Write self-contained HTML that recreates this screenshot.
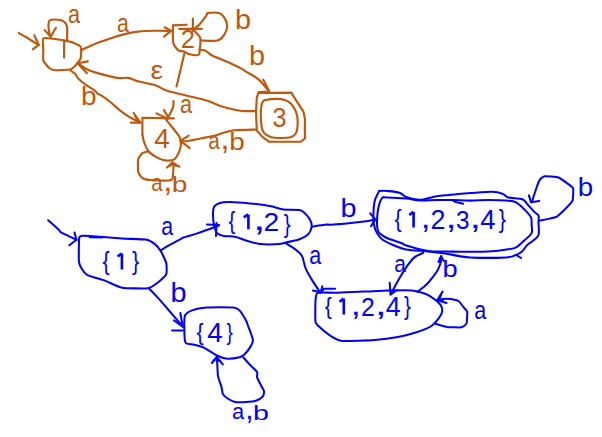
<!DOCTYPE html><html><head><meta charset="utf-8"><style>html,body{margin:0;padding:0;background:#fff;width:602px;height:437px;overflow:hidden}svg{display:block}</style></head><body>
<svg width="602" height="437" viewBox="0 0 602 437">
<rect width="602" height="437" fill="#fff"/>
<g fill="none" stroke="#C0580C" stroke-width="2.15" stroke-linecap="round" stroke-linejoin="round">
<path d="M18.7,33.0 C19.8,33.6 23.3,35.5 25.4,36.8 C27.5,38.0 29.2,39.1 31.4,40.5 C33.6,41.9 37.6,44.2 38.8,44.9"/>
<path d="M34.3,35.3 L38.8,44.9 L32.8,49.4"/>
<path d="M43.3,38.3 C44.1,37.6 53.7,38.9 55.1,39.0 C56.5,39.1 62.9,40.3 64.0,40.5 C65.1,40.7 70.4,41.6 71.5,42.0 C72.6,42.4 79.8,45.7 80.4,46.4 C81.0,47.1 81.2,52.3 81.2,53.1 C81.2,53.9 80.8,58.1 80.4,59.0 C80.0,59.9 75.2,65.8 74.5,66.5 C73.8,67.2 71.3,69.3 70.0,69.5 C68.7,69.7 56.5,70.3 55.1,70.2 C53.7,70.1 50.0,68.6 49.2,68.0 C48.4,67.4 43.7,61.8 43.3,60.6 C42.9,59.4 43.3,51.5 43.3,50.0 C43.3,48.5 42.5,39.0 43.3,38.3 Z"/>
<path d="M64.1,40.5 L64.1,57.6"/>
<path d="M67.0,40.5 C67.0,38.1 67.6,29.6 67.0,26.4 C66.4,23.2 64.8,22.3 63.3,21.2 C61.8,20.1 60.3,19.9 58.1,19.7 C55.9,19.5 51.6,19.2 50.0,20.1 C48.4,21.0 48.6,22.9 48.5,24.9 C48.4,26.9 48.8,30.3 49.2,32.3 C49.6,34.3 50.5,36.0 50.7,36.8"/>
<path d="M44.7,30.1 L50.7,36.8 L55.9,27.8"/>
<path d="M81.7,49.9 C84.2,48.8 91.3,45.3 96.6,43.2 C101.8,41.1 108.5,38.9 113.2,37.4 C117.9,35.9 120.8,35.1 124.9,34.1 C129.1,33.1 133.1,32.1 138.1,31.6 C143.1,31.1 149.3,30.9 154.8,30.8 C160.3,30.7 168.3,30.9 171.0,30.9"/>
<path d="M164.7,27.3 L171.0,30.9 L163.9,36.6"/>
<path d="M173.0,25.4 L186.7,24.7"/>
<path d="M173.0,25.4 C173.0,28.0 172.7,37.7 173.0,41.2 C173.3,44.7 174.1,45.0 175.1,46.6 C176.1,48.2 177.7,50.0 179.2,50.8 C180.7,51.6 182.3,50.8 184.0,51.4 C185.7,52.0 187.1,53.6 189.5,54.2 C191.9,54.8 196.7,55.8 198.4,54.9 C200.1,54.0 199.5,51.0 199.8,48.7 C200.2,46.4 200.5,43.2 200.5,41.2 C200.5,39.2 200.7,38.6 199.8,37.0 C198.9,35.4 196.3,33.0 195.0,31.6 C193.7,30.2 192.5,29.0 192.0,28.5"/>
<path d="M201.2,40.5 C203.9,40.5 213.7,41.5 217.6,40.5 C221.5,39.5 222.9,36.7 224.5,34.3 C226.1,31.9 227.2,28.9 227.2,26.1 C227.2,23.4 225.9,20.0 224.5,17.8 C223.1,15.6 221.8,13.8 219.0,13.0 C216.2,12.2 210.1,12.7 208.0,13.0 C205.9,13.3 208.0,13.3 206.6,15.1 C205.2,16.9 201.9,21.7 199.8,24.0 C197.8,26.3 195.2,28.0 194.3,28.8"/>
<path d="M192.9,18.5 L192.9,30.9"/>
<path d="M179.2,28.8 L201.8,28.8"/>
<path d="M199.5,49.7 C200.4,49.8 202.8,49.5 205.0,50.5 C207.2,51.5 209.9,54.3 212.4,55.7 C214.9,57.1 216.7,57.3 219.9,58.7 C223.2,60.1 228.2,62.2 231.9,63.9 C235.6,65.6 239.8,67.7 242.3,69.1 C244.8,70.5 244.6,70.7 246.8,72.1 C249.1,73.5 253.6,75.9 255.8,77.4 C258.1,78.9 258.1,78.7 260.3,81.1 C262.5,83.5 267.7,89.8 269.2,91.6"/>
<path d="M263.2,79.6 L269.2,91.6 L258.8,92.0"/>
<path d="M184.5,53.0 C183.8,55.8 181.8,64.4 180.5,70.0 C179.2,75.6 177.2,83.7 176.5,86.4"/>
<path d="M173.4,101.0 C173.4,101.8 173.8,104.2 173.4,106.0 C173.0,107.8 171.8,110.0 170.9,112.0 C170.0,114.0 168.4,116.9 167.9,117.9"/>
<path d="M156.4,113.4 L167.9,118.9"/>
<path d="M163.9,110.0 L167.9,116.9"/>
<path d="M256.0,111.1 C254.1,111.1 248.0,111.3 244.5,111.1 C241.0,110.9 238.8,110.5 234.9,109.7 C231.0,108.9 225.8,107.8 221.2,106.3 C216.6,104.8 212.0,102.3 207.4,100.8 C202.8,99.3 197.4,98.2 193.7,97.3 C190.0,96.4 189.6,96.3 185.0,95.2 C180.4,94.1 171.3,92.3 166.4,90.6 C161.5,88.9 160.0,86.7 155.4,85.2 C150.8,83.7 143.6,82.7 139.0,81.5 C134.4,80.3 131.7,78.5 128.0,77.9 C124.3,77.3 122.5,78.8 117.0,77.9 C111.5,77.0 100.3,73.9 95.1,72.4 C89.9,70.9 88.9,70.2 86.0,68.7 C83.1,67.2 79.1,64.1 77.7,63.2"/>
<path d="M87.8,61.4 L77.7,63.2 L86.9,73.3"/>
<path d="M258.4,93.0 L291.3,92.6 L295.3,99.2 L303.3,111.3 L304.9,118.5 L304.9,138.5 L300.9,141.7 L268.8,141.7 L262.4,136.9 L256.8,130.5 L256.0,112.0 L256.8,97.6 Z"/>
<path d="M265.6,100.0 C268.0,99.4 273.7,98.9 276.9,98.9 C280.1,98.9 282.5,99.2 284.9,100.0 C287.3,100.8 289.4,102.0 291.3,104.0 C293.2,106.0 295.0,109.0 296.1,112.0 C297.2,115.0 297.7,118.2 297.7,121.7 C297.7,125.2 297.2,130.4 296.1,132.9 C295.0,135.4 294.0,136.1 291.3,136.9 C288.6,137.8 283.6,138.0 280.1,138.0 C276.6,138.0 273.1,137.8 270.4,136.9 C267.7,136.1 265.5,134.6 264.0,132.9 C262.5,131.2 262.1,130.0 261.6,126.5 C261.1,123.0 260.7,116.0 260.8,112.0 C260.9,108.0 261.6,104.4 262.4,102.4 C263.2,100.4 263.2,100.6 265.6,100.0 Z"/>
<path d="M256.0,129.6 C252.5,129.7 240.0,129.9 234.9,130.3 C229.8,130.8 228.7,131.4 225.3,132.3 C221.9,133.2 218.4,134.8 214.3,135.8 C210.2,136.8 205.2,137.6 200.6,138.5 C196.0,139.4 190.3,140.8 186.9,141.2 C183.5,141.6 181.5,140.9 180.4,140.9"/>
<path d="M188.7,135.7 L180.4,140.9 L189.7,148.1"/>
<path d="M70.5,70.5 C71.3,71.1 74.2,72.8 75.3,73.9 C76.4,75.0 76.3,76.0 77.3,77.3 C78.3,78.6 79.9,80.1 81.5,81.5 C83.1,82.9 84.8,84.1 87.0,85.6 C89.2,87.1 92.7,89.0 94.5,90.4 C96.3,91.8 96.7,92.9 97.9,93.8 C99.2,94.7 99.9,94.5 102.0,95.9 C104.1,97.3 107.3,99.6 110.3,102.0 C113.3,104.4 116.7,107.8 119.9,110.3 C123.1,112.8 126.1,115.0 129.5,117.1 C132.9,119.1 138.6,121.7 140.4,122.6"/>
<path d="M133.6,113.0 L140.4,122.6 L130.8,122.6"/>
<path d="M135.0,116.0 L138.5,121.5"/>
<path d="M142.4,134.7 L142.4,117.8 L173.9,118.4"/>
<path d="M166.0,119.3 C166.8,120.4 171.6,126.5 173.2,128.5 C174.8,130.5 178.5,135.1 179.4,136.8 C180.3,138.5 181.0,141.3 181.0,143.0 C181.0,144.7 180.2,149.3 179.4,151.2 C178.6,153.1 176.0,158.3 174.3,159.4 C172.6,160.5 167.0,160.6 165.0,160.4 C163.0,160.2 158.7,158.5 156.8,157.4 C154.9,156.3 149.9,152.9 148.5,151.2 C147.1,149.5 145.1,144.9 144.4,143.0 C143.7,141.1 142.6,135.7 142.4,134.7"/>
<path d="M148.5,151.2 C147.9,151.4 143.4,152.4 142.4,153.2 C141.4,154.0 138.6,157.5 138.2,159.4 C137.8,161.3 137.8,169.9 138.2,171.8 C138.6,173.7 141.2,177.2 142.4,178.0 C143.6,178.8 147.7,179.8 150.6,180.0 C153.5,180.2 168.9,180.8 171.2,180.0 C173.5,179.2 173.0,173.5 173.2,171.8 C173.4,170.2 173.3,164.4 173.2,163.5 C173.1,162.6 172.3,162.6 172.2,162.5"/>
<path d="M167.0,167.6 L172.2,162.5 L179.4,166.6"/>
<path d="M170.0,165.8 L172.5,163.5 L176.0,165.8"/>
</g>
<g fill="none" stroke="#0000FF" stroke-width="2.05" stroke-linecap="round" stroke-linejoin="round">
<path d="M48.2,220.3 C49.9,221.8 56.4,227.5 58.5,229.5 C60.6,231.5 59.1,231.1 60.6,232.1 C62.1,233.1 65.1,234.4 67.8,235.7 C70.5,237.0 75.0,239.1 76.5,239.8"/>
<path d="M74.5,232.6 L76.5,239.8 L69.3,245.3"/>
<path d="M79.1,238.3 C79.3,236.2 80.3,236.1 81.2,235.9 C82.1,235.7 86.3,235.9 89.7,236.1 C93.1,236.3 117.4,238.2 122.1,238.5 C126.8,238.8 143.1,239.2 145.8,239.6 C148.5,240.0 153.2,242.9 154.5,243.9 C155.8,244.9 160.0,249.8 161.0,251.4 C162.0,253.0 165.9,261.4 166.3,263.3 C166.7,265.2 166.9,272.6 166.3,274.1 C165.7,275.6 160.3,280.5 158.8,281.7 C157.3,282.9 151.1,287.7 148.0,288.2 C144.9,288.7 125.7,288.3 122.1,287.7 C118.5,287.1 107.7,281.6 104.8,280.6 C101.9,279.6 89.5,276.3 87.5,275.2 C85.5,274.1 81.7,268.8 81.0,267.6 C80.3,266.4 79.1,263.6 78.9,261.2 C78.7,258.8 78.9,240.4 79.1,238.3 Z"/>
<path d="M89.7,237.2 L102.0,237.5"/>
<path d="M160.6,250.2 C162.2,249.3 166.3,246.9 169.9,244.9 C173.5,242.9 179.2,239.6 181.9,238.3 C184.6,237.0 183.5,237.7 185.9,236.9 C188.3,236.1 193.2,234.7 196.5,233.6 C199.8,232.5 202.1,231.7 205.8,230.3 C209.6,229.0 216.8,226.3 219.0,225.5"/>
<path d="M207.0,224.5 L219.0,225.0"/>
<path d="M216.5,223.0 L216.0,236.0"/>
<path d="M148.8,288.2 C150.5,290.0 155.8,295.4 158.9,298.9 C162.1,302.4 165.0,305.9 167.7,309.0 C170.4,312.1 172.8,314.9 175.3,317.8 C177.8,320.7 181.6,325.1 182.8,326.6"/>
<path d="M174.0,320.3 L182.8,326.6 L180.3,313.0"/>
<path d="M172.1,330.4 L182.8,330.4"/>
<path d="M184.8,316.0 C185.5,313.5 189.7,311.3 191.9,310.4 C194.1,309.5 202.6,307.7 206.8,307.4 C211.0,307.1 230.2,307.1 233.5,307.4 C236.8,307.7 238.3,309.2 239.5,310.4 C240.7,311.6 244.5,317.7 245.4,319.3 C246.3,320.9 247.7,324.7 248.4,326.8 C249.2,328.9 252.8,338.0 252.9,340.1 C253.1,342.2 250.8,346.1 249.9,347.6 C249.0,349.1 244.9,354.0 243.9,355.0 C242.9,356.0 241.1,356.8 239.5,357.2 C237.9,357.6 229.8,358.8 227.6,358.7 C225.4,358.6 219.6,356.9 217.2,355.8 C214.8,354.7 206.2,348.7 203.8,347.6 C201.4,346.5 195.2,345.1 193.4,344.6 C191.6,344.2 186.9,344.0 186.0,343.1 C185.1,342.2 184.6,338.4 184.5,335.7 C184.4,333.0 184.1,318.5 184.8,316.0 Z"/>
<path d="M243.4,357.5 C244.1,358.3 248.9,363.7 250.3,365.1 C251.7,366.6 256.4,370.8 257.1,372.0 C257.8,373.2 256.7,376.0 257.1,377.4 C257.5,378.8 260.5,384.3 261.2,385.7 C261.9,387.1 263.9,390.1 264.0,391.2 C264.1,392.3 263.4,395.6 262.6,396.6 C261.8,397.6 257.4,400.2 255.8,400.8 C254.2,401.4 248.3,402.0 246.2,402.1 C244.1,402.2 237.1,402.5 235.2,402.1 C233.3,401.7 228.1,398.8 226.9,398.0 C225.7,397.2 223.3,395.0 222.8,393.9 C222.3,392.8 222.0,388.8 221.5,387.0 C221.0,385.2 218.4,378.4 218.0,376.1 C217.6,373.8 217.4,365.6 217.3,363.7 C217.2,361.8 216.8,358.1 216.7,357.5"/>
<path d="M211.9,363.0 L216.7,356.9 L222.8,364.4"/>
<path d="M213.5,361.0 L216.7,358.0 L219.0,361.0"/>
<path d="M214.0,207.0 C214.9,205.4 217.8,203.7 219.9,203.0 C222.0,202.3 225.9,201.9 229.9,202.0 C233.9,202.1 244.5,202.9 249.8,203.4 C255.1,203.9 265.3,205.2 269.8,206.0 C274.3,206.8 279.7,208.9 283.7,209.4 C287.7,209.9 296.8,209.4 299.7,210.0 C302.6,210.6 304.1,212.4 305.6,213.9 C307.1,215.4 309.8,219.2 310.6,220.9 C311.4,222.6 311.9,225.2 311.6,226.9 C311.3,228.6 310.2,232.2 308.6,233.9 C307.0,235.6 302.3,238.2 299.5,239.3 C296.7,240.4 290.3,241.4 287.7,242.0 C285.1,242.6 283.4,243.7 279.7,244.0 C276.0,244.3 264.3,244.5 259.8,244.0 C255.3,243.5 249.0,241.3 245.8,240.4 C242.6,239.5 238.8,237.5 235.9,236.9 C233.0,236.3 226.4,236.4 223.9,235.9 C221.4,235.4 218.2,234.4 216.9,232.9 C215.6,231.4 214.5,227.3 214.0,224.9 C213.5,222.5 213.0,217.3 213.0,214.9 C213.0,212.5 213.1,208.6 214.0,207.0 Z"/>
<path d="M312.1,226.7 C314.2,226.4 321.6,225.0 324.7,224.7 C327.8,224.4 327.4,224.8 330.6,224.7 C333.9,224.5 339.0,224.3 344.2,223.8 C349.4,223.3 356.5,222.5 361.7,221.8 C366.9,221.1 373.0,219.8 375.3,219.4"/>
<path d="M370.2,213.3 L375.3,219.4 L371.0,226.2"/>
<path d="M285.8,243.2 C287.1,244.0 291.3,246.5 293.6,248.1 C295.9,249.7 298.0,251.4 299.5,252.9 C301.0,254.4 301.4,254.4 302.4,256.8 C303.4,259.2 304.2,264.4 305.3,267.5 C306.4,270.6 307.8,272.7 309.2,275.3 C310.6,277.9 312.2,280.3 314.0,283.1 C315.8,285.9 319.1,290.8 320.1,292.3"/>
<path d="M312.9,290.6 L320.6,292.3"/>
<path d="M322.3,286.3 L320.6,292.8"/>
<path d="M320.1,292.8 L324.0,288.8 L335.0,288.8"/>
<path d="M379.6,191.0 C381.0,190.8 384.0,190.7 387.3,191.0 C390.6,191.3 396.2,191.7 399.4,192.7 C402.5,193.7 402.8,195.8 406.2,197.0 C409.6,198.2 414.9,199.9 420.0,199.8 C425.1,199.7 431.8,197.0 436.6,196.2 C441.5,195.4 445.0,195.4 449.1,195.0 C453.2,194.6 457.0,194.1 461.5,193.7 C466.0,193.3 471.1,193.0 476.2,192.7 C481.3,192.4 488.0,191.6 492.4,191.8 C496.8,192.0 499.7,192.8 502.4,193.7 C505.1,194.6 505.3,196.6 508.6,197.5 C511.9,198.4 519.0,198.0 522.3,199.3 C525.6,200.6 526.4,203.3 528.5,205.5 C530.6,207.7 533.1,210.7 534.8,212.4 C536.5,214.1 537.9,213.8 538.5,215.5 C539.1,217.2 538.5,219.2 538.5,222.4 C538.5,225.7 539.5,231.9 538.5,235.0 C537.5,238.1 534.2,239.5 532.3,241.2 C530.4,242.8 529.0,243.2 527.3,244.9 C525.6,246.6 524.2,249.5 522.3,251.2 C520.4,252.9 518.8,253.9 516.1,254.9 C513.4,255.9 513.8,257.0 506.1,257.4 C498.4,257.8 480.2,258.0 470.0,257.4 C459.8,256.8 452.0,254.5 445.0,253.5 C438.0,252.5 434.3,252.1 427.8,251.4 C421.3,250.7 411.7,250.5 405.9,249.4 C400.1,248.3 396.8,246.6 393.0,245.0 C389.2,243.4 385.3,241.5 383.0,240.0 C380.7,238.5 380.2,237.7 379.0,236.0 C377.8,234.3 376.4,232.5 375.5,230.0 C374.6,227.5 373.7,225.6 373.5,221.0 C373.3,216.4 373.5,207.0 374.4,202.2 C375.3,197.3 377.8,193.8 378.7,191.9 C379.6,190.0 378.2,191.2 379.6,191.0 Z"/>
<path d="M382.2,197.9 C383.7,196.3 383.3,197.4 387.3,197.5 C391.3,197.6 400.8,198.0 406.2,198.5 C411.6,199.0 414.9,200.2 420.0,200.4 C425.1,200.7 431.2,200.1 436.6,200.0 C442.0,199.9 446.8,199.9 452.4,200.0 C458.0,200.1 463.9,200.6 470.0,200.6 C476.1,200.6 482.7,200.0 488.7,200.0 C494.7,200.0 501.5,200.2 506.1,200.6 C510.7,201.0 513.0,200.8 516.1,202.4 C519.2,204.0 522.3,207.4 524.8,209.9 C527.3,212.4 529.9,214.9 531.0,217.4 C532.1,219.9 531.5,222.2 531.6,224.8 C531.7,227.4 532.7,230.6 531.6,233.1 C530.5,235.6 527.4,237.5 524.8,239.9 C522.2,242.3 519.0,245.8 516.1,247.4 C513.2,249.0 511.3,248.7 507.4,249.3 C503.4,249.9 498.6,250.8 492.4,251.2 C486.2,251.6 477.9,251.8 470.0,251.8 C462.1,251.9 452.0,251.6 445.0,251.5 C438.0,251.4 434.0,251.9 427.8,251.0 C421.6,250.1 412.5,247.3 408.0,246.0 C403.5,244.7 404.3,244.2 401.0,243.0 C397.7,241.8 391.2,239.8 388.0,238.5 C384.8,237.2 383.7,236.2 382.0,235.0 C380.3,233.8 378.8,233.2 378.0,231.0 C377.2,228.8 376.9,225.9 377.0,222.0 C377.1,218.1 377.6,211.3 378.5,207.3 C379.4,203.3 380.7,199.5 382.2,197.9 Z"/>
<path d="M452.4,200.0 L455.7,202.0 L463.2,203.7"/>
<path d="M516.1,254.9 L521.1,258.0"/>
<path d="M539.2,220.8 C540.4,220.5 554.8,217.9 557.0,216.6 C559.2,215.3 571.0,203.5 572.1,201.6 C573.2,199.7 573.7,189.4 572.8,187.8 C571.9,186.2 560.3,178.3 558.4,177.5 C556.5,176.7 545.9,176.1 544.7,176.2 C543.5,176.3 540.4,178.8 539.9,179.6 C539.4,180.4 537.0,186.3 536.5,187.8 C536.0,189.3 532.0,201.2 531.7,202.2"/>
<path d="M528.9,195.4 L531.0,202.2 L539.2,200.9"/>
<path d="M317.8,292.8 C319.8,292.0 330.7,292.9 335.2,292.8 C339.7,292.7 357.8,291.8 363.1,291.6 C368.5,291.4 383.8,290.6 388.7,290.5 C393.6,290.4 408.3,290.1 412.0,290.5 C415.7,290.9 423.6,293.1 425.9,294.0 C428.2,294.9 433.7,298.6 435.2,299.8 C436.7,301.0 440.3,304.4 441.0,305.6 C441.7,306.8 442.4,310.1 442.2,311.4 C442.0,312.7 439.9,316.9 438.7,318.4 C437.5,319.9 432.8,325.1 430.6,326.5 C428.4,327.9 419.9,331.2 416.6,332.3 C413.3,333.4 402.2,336.2 398.0,337.0 C393.8,337.8 380.4,339.6 374.8,340.0 C369.2,340.4 346.6,341.3 342.2,340.9 C337.8,340.5 332.9,337.2 330.6,335.8 C328.3,334.4 320.5,327.9 319.0,326.5 C317.5,325.1 315.9,324.4 315.5,321.9 C315.1,319.3 315.3,303.9 315.5,301.0 C315.7,298.1 315.8,293.6 317.8,292.8 Z"/>
<path d="M423.3,252.9 C421.8,253.7 417.1,255.1 414.4,257.4 C411.7,259.6 409.4,262.9 406.9,266.4 C404.4,269.9 402.0,273.8 399.4,278.3 C396.8,282.8 392.6,290.8 391.2,293.3"/>
<path d="M389.7,282.8 L390.5,294.8 L397.0,290.0"/>
<path d="M417.4,291.8 C418.9,290.6 423.9,287.0 426.5,284.5 C429.1,282.0 431.2,279.2 433.2,276.6 C435.2,274.0 437.2,271.3 438.5,268.6 C439.8,265.9 440.7,262.7 441.2,260.6 C441.7,258.5 441.3,256.7 441.3,255.9"/>
<path d="M438.5,262.0 L441.0,256.5 L444.0,261.0"/>
<path d="M440.0,258.0 L440.5,262.0"/>
<path d="M434.6,323.5 C435.6,323.8 444.4,326.6 446.6,326.9 C448.8,327.2 459.5,327.6 461.2,327.3 C462.9,327.0 466.0,324.8 466.5,323.5 C467.0,322.2 467.4,312.9 467.2,311.6 C467.0,310.3 464.6,308.5 463.9,307.6 C463.2,306.7 459.6,301.7 458.5,301.0 C457.4,300.3 451.9,299.2 450.6,299.0 C449.3,298.8 443.7,298.9 442.6,299.0 C441.5,299.1 437.7,300.2 437.3,300.3"/>
<path d="M442.6,291.6 L437.3,300.3 L446.6,303.0"/>
<path d="M441.0,295.0 L438.5,300.0 L443.0,301.0"/>
</g>
<text transform="matrix(0.2173 0 0 0.2564 67.93 22.64)" font-family="Liberation Sans" font-size="100" fill="#C0580C">a</text>
<text transform="matrix(0.2135 0 0 0.2564 116.95 31.64)" font-family="Liberation Sans" font-size="100" fill="#C0580C">a</text>
<text transform="matrix(0.2886 0 0 0.2671 234.88 28.80)" font-family="Liberation Sans" font-size="100" fill="#C0580C">b</text>
<text transform="matrix(0.2565 0 0 0.2600 180.82 48.00)" font-family="Liberation Sans" font-size="100" fill="#C0580C">2</text>
<text transform="matrix(0.2846 0 0 0.2527 150.45 78.65)" font-family="Liberation Sans" font-size="100" fill="#C0580C">ε</text>
<text transform="matrix(0.2886 0 0 0.2671 248.88 64.90)" font-family="Liberation Sans" font-size="100" fill="#C0580C">b</text>
<text transform="matrix(0.2818 0 0 0.2671 81.03 104.80)" font-family="Liberation Sans" font-size="100" fill="#C0580C">b</text>
<text transform="matrix(0.2532 0 0 0.2831 272.39 127.32)" font-family="Liberation Sans" font-size="100" fill="#C0580C">3</text>
<text transform="matrix(0.2173 0 0 0.2564 179.93 112.64)" font-family="Liberation Sans" font-size="100" fill="#C0580C">a</text>
<text transform="matrix(0.2804 0 0 0.2838 154.24 148.28)" font-family="Liberation Sans" font-size="100" fill="#C0580C">4</text>
<text transform="matrix(0.2077 0 0 0.2309 208.27 149.47)" font-family="Liberation Sans" font-size="100" fill="#C0580C">a</text>
<text transform="matrix(0.3400 0 0 0.3125 220.24 149.34)" font-family="Liberation Sans" font-size="100" fill="#C0580C">,</text>
<text transform="matrix(0.2795 0 0 0.2356 229.24 149.70)" font-family="Liberation Sans" font-size="100" fill="#C0580C">b</text>
<text transform="matrix(0.2038 0 0 0.2382 151.18 191.46)" font-family="Liberation Sans" font-size="100" fill="#C0580C">a</text>
<text transform="matrix(0.3300 0 0 0.3208 163.33 191.23)" font-family="Liberation Sans" font-size="100" fill="#C0580C">,</text>
<text transform="matrix(0.2818 0 0 0.2219 171.63 191.70)" font-family="Liberation Sans" font-size="100" fill="#C0580C">b</text>
<text transform="matrix(0.2135 0 0 0.2582 161.25 234.74)" font-family="Liberation Sans" font-size="100" fill="#0000FF">a</text>
<text transform="matrix(0.2167 0 0 0.2553 102.57 269.64)" font-family="Liberation Sans" font-size="100" fill="#0000FF">{</text>
<path d="M117.60,256.59 L121.60,253.40 M121.90,253.40 L121.90,269.50" fill="none" stroke="#0000FF" stroke-width="2.6" stroke-linecap="butt" stroke-linejoin="round"/>
<text transform="matrix(0.2167 0 0 0.2553 131.97 269.64)" font-family="Liberation Sans" font-size="100" fill="#0000FF">}</text>
<text transform="matrix(0.2886 0 0 0.2671 170.38 301.80)" font-family="Liberation Sans" font-size="100" fill="#0000FF">b</text>
<text transform="matrix(0.2067 0 0 0.2457 228.39 229.34)" font-family="Liberation Sans" font-size="100" fill="#0000FF">{</text>
<path d="M243.70,217.30 L248.10,214.40 M248.40,214.40 L248.40,229.30" fill="none" stroke="#0000FF" stroke-width="2.6" stroke-linecap="butt" stroke-linejoin="round"/>
<text transform="matrix(0.4500 0 0 0.3292 253.05 230.22)" font-family="Liberation Sans" font-size="100" fill="#0000FF">,</text>
<text transform="matrix(0.2826 0 0 0.2586 263.59 230.60)" font-family="Liberation Sans" font-size="100" fill="#0000FF">2</text>
<text transform="matrix(0.2067 0 0 0.2521 283.79 232.61)" font-family="Liberation Sans" font-size="100" fill="#0000FF">}</text>
<text transform="matrix(0.2886 0 0 0.2658 340.38 216.90)" font-family="Liberation Sans" font-size="100" fill="#0000FF">b</text>
<text transform="matrix(0.2154 0 0 0.2491 309.24 264.45)" font-family="Liberation Sans" font-size="100" fill="#0000FF">a</text>
<text transform="matrix(0.2167 0 0 0.2436 394.57 227.28)" font-family="Liberation Sans" font-size="100" fill="#0000FF">{</text>
<path d="M409.30,214.92 L413.30,211.80 M413.60,211.80 L413.60,227.60" fill="none" stroke="#0000FF" stroke-width="2.6" stroke-linecap="butt" stroke-linejoin="round"/>
<text transform="matrix(0.3500 0 0 0.3125 420.75 228.34)" font-family="Liberation Sans" font-size="100" fill="#0000FF">,</text>
<text transform="matrix(0.2696 0 0 0.2700 430.55 228.90)" font-family="Liberation Sans" font-size="100" fill="#0000FF">2</text>
<text transform="matrix(0.4000 0 0 0.3083 445.40 228.39)" font-family="Liberation Sans" font-size="100" fill="#0000FF">,</text>
<text transform="matrix(0.2426 0 0 0.2662 456.03 228.63)" font-family="Liberation Sans" font-size="100" fill="#0000FF">3</text>
<text transform="matrix(0.4000 0 0 0.3083 469.80 228.39)" font-family="Liberation Sans" font-size="100" fill="#0000FF">,</text>
<text transform="matrix(0.2745 0 0 0.2706 480.35 229.17)" font-family="Liberation Sans" font-size="100" fill="#0000FF">4</text>
<text transform="matrix(0.2167 0 0 0.2543 498.87 227.56)" font-family="Liberation Sans" font-size="100" fill="#0000FF">}</text>
<text transform="matrix(0.2773 0 0 0.2630 577.76 195.70)" font-family="Liberation Sans" font-size="100" fill="#0000FF">b</text>
<text transform="matrix(0.2096 0 0 0.2418 394.16 271.86)" font-family="Liberation Sans" font-size="100" fill="#0000FF">a</text>
<text transform="matrix(0.2727 0 0 0.2370 442.59 277.30)" font-family="Liberation Sans" font-size="100" fill="#0000FF">b</text>
<text transform="matrix(0.2133 0 0 0.2457 324.77 314.34)" font-family="Liberation Sans" font-size="100" fill="#0000FF">{</text>
<path d="M339.60,301.69 L343.50,298.50 M343.80,298.50 L343.80,314.60" fill="none" stroke="#0000FF" stroke-width="2.6" stroke-linecap="butt" stroke-linejoin="round"/>
<text transform="matrix(0.3600 0 0 0.3125 350.66 315.44)" font-family="Liberation Sans" font-size="100" fill="#0000FF">,</text>
<text transform="matrix(0.2478 0 0 0.2614 361.06 315.70)" font-family="Liberation Sans" font-size="100" fill="#0000FF">2</text>
<text transform="matrix(0.4200 0 0 0.3083 374.92 315.39)" font-family="Liberation Sans" font-size="100" fill="#0000FF">,</text>
<text transform="matrix(0.2686 0 0 0.2691 385.66 315.97)" font-family="Liberation Sans" font-size="100" fill="#0000FF">4</text>
<text transform="matrix(0.2067 0 0 0.2511 404.09 314.53)" font-family="Liberation Sans" font-size="100" fill="#0000FF">}</text>
<text transform="matrix(0.2154 0 0 0.2491 474.24 319.45)" font-family="Liberation Sans" font-size="100" fill="#0000FF">a</text>
<text transform="matrix(0.2167 0 0 0.2479 196.57 340.29)" font-family="Liberation Sans" font-size="100" fill="#0000FF">{</text>
<text transform="matrix(0.2765 0 0 0.2706 207.15 341.97)" font-family="Liberation Sans" font-size="100" fill="#0000FF">4</text>
<text transform="matrix(0.1900 0 0 0.2479 226.42 340.29)" font-family="Liberation Sans" font-size="100" fill="#0000FF">}</text>
<text transform="matrix(0.2192 0 0 0.2218 232.12 419.18)" font-family="Liberation Sans" font-size="100" fill="#0000FF">a</text>
<text transform="matrix(0.3000 0 0 0.3167 245.20 419.08)" font-family="Liberation Sans" font-size="100" fill="#0000FF">,</text>
<text transform="matrix(0.2864 0 0 0.2096 253.10 419.80)" font-family="Liberation Sans" font-size="100" fill="#0000FF">b</text>
</svg></body></html>
